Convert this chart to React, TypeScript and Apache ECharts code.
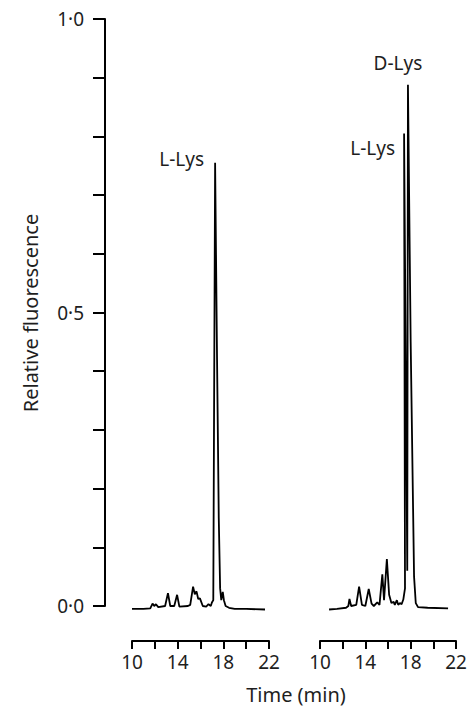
import React, { useEffect, useRef } from "react";
import * as echarts from "echarts";

// Left chromatogram (time in min, relative fluorescence)
const leftTime = [10.0, 11.0, 11.6, 11.8, 11.95, 12.1, 12.3, 12.9, 13.15, 13.35, 13.7, 13.95, 14.15, 14.9, 15.1, 15.35, 15.5, 15.65, 15.8, 15.95, 16.2, 16.5, 16.7, 16.9, 17.0, 17.12, 17.28, 17.45, 17.6, 17.72, 17.82, 17.95, 18.05, 18.2, 18.5, 19.0, 20.0, 21.65];
const leftSignal = [-0.005, -0.005, -0.004, 0.004, 0.0, 0.003, -0.002, 0.0, 0.022, 0.0, 0.0, 0.019, -0.001, 0.0, 0.002, 0.033, 0.02, 0.025, 0.012, 0.013, 0.0, -0.001, 0.003, 0.0, 0.006, 0.01, 0.755, 0.42, 0.15, 0.03, 0.01, 0.024, 0.01, 0.0, -0.003, -0.005, -0.005, -0.006];

// Right chromatogram
const rightTime = [10.8, 11.5, 12.3, 12.5, 12.6, 12.75, 13.2, 13.45, 13.7, 14.0, 14.3, 14.55, 14.75, 15.05, 15.25, 15.5, 15.65, 15.9, 16.1, 16.3, 16.5, 16.6, 16.78, 16.9, 17.05, 17.2, 17.35, 17.5, 17.42, 17.7, 17.76, 18.0, 18.3, 18.45, 18.65, 19.5, 21.3];
const rightSignal = [-0.006, -0.005, -0.003, 0.0, 0.012, 0.0, 0.002, 0.033, 0.002, 0.0, 0.029, 0.004, 0.0, 0.006, 0.002, 0.054, 0.01, 0.08, 0.019, 0.005, 0.007, 0.002, 0.01, 0.002, 0.005, 0.003, 0.011, 0.03, 0.805, 0.06, 0.888, 0.45, 0.05, 0.005, -0.002, -0.003, -0.004];

// Peak annotations
const leftPeaks = [{ name: "L-Lys", t: 17.28, v: 0.755 }];
const rightPeaks = [
  { name: "L-Lys", t: 17.42, v: 0.805 },
  { name: "D-Lys", t: 17.76, v: 0.888 },
];

// Tick labels
const yLabelValues = [0, 0.5, 1.0];
const xLabelValues = [10, 14, 18, 22];

const FONT = "Noto Sans";
const TEXT_COLOR = "#1e1e1e";
const TICK_FS = 19;
const TITLE_FS = 20;

function fmtY(v: number) {
  const hit = yLabelValues.some((y) => Math.abs(y - v) < 1e-6);
  return hit ? v.toFixed(1).replace(".", "\u00B7") : "";
}
function fmtX(v: number) {
  return xLabelValues.some((x) => Math.abs(x - v) < 1e-6) ? String(v) : "";
}

export default function App() {
  const ref = useRef<HTMLDivElement>(null);
  useEffect(() => {
    document.body.style.margin = "0";
    if (!ref.current) return;
    const chart = echarts.init(ref.current, undefined, { renderer: "svg" });

    const xAxisBase = {
      type: "value",
      min: 10,
      max: 22,
      interval: 2,
      position: "bottom",
      offset: 35,
      axisLine: { show: true, onZero: false, lineStyle: { color: "#000", width: 2 } },
      axisTick: { show: true, inside: false, length: 8, lineStyle: { color: "#000", width: 2 } },
      axisLabel: { formatter: fmtX, color: TEXT_COLOR, fontSize: TICK_FS, fontFamily: FONT, margin: 11 },
      splitLine: { show: false },
    };

    const lineStyle = { color: "#000", width: 1.8 };

    const mkMarks = (peaks: any[], cfg: any[]) => ({
      symbol: "circle",
      symbolSize: 0,
      silent: true,
      data: peaks.map((p, i) => ({
        coord: [p.t, p.v],
        label: {
          show: true,
          formatter: p.name,
          color: TEXT_COLOR,
          fontSize: TICK_FS,
          fontFamily: FONT,
          ...cfg[i],
        },
      })),
    });

    chart.setOption({
      animation: false,
      backgroundColor: "#fff",
      grid: [
        { left: 132, width: 137, top: 19, height: 587 },
        { left: 320, width: 136, top: 19, height: 587 },
      ],
      xAxis: [
        { ...xAxisBase, gridIndex: 0 },
        { ...xAxisBase, gridIndex: 1 },
      ],
      yAxis: [
        {
          type: "value",
          gridIndex: 0,
          min: 0,
          max: 1,
          interval: 0.1,
          position: "left",
          offset: 27,
          axisLine: { show: true, onZero: false, lineStyle: { color: "#000", width: 2 } },
          axisTick: { show: true, inside: false, length: 12, lineStyle: { color: "#000", width: 2 } },
          axisLabel: { formatter: fmtY, color: TEXT_COLOR, fontSize: TICK_FS, fontFamily: FONT, margin: 21 },
          splitLine: { show: false },
        },
        { type: "value", gridIndex: 1, min: 0, max: 1, show: false, splitLine: { show: false } },
      ],
      series: [
        {
          type: "line",
          xAxisIndex: 0,
          yAxisIndex: 0,
          data: leftTime.map((t, i) => [t, leftSignal[i]]),
          showSymbol: false,
          symbol: "none",
          clip: false,
          lineStyle,
          markPoint: mkMarks(leftPeaks, [{ position: "left", distance: 11, offset: [0, -4] }]),
        },
        {
          type: "line",
          xAxisIndex: 1,
          yAxisIndex: 1,
          data: rightTime.map((t, i) => [t, rightSignal[i]]),
          showSymbol: false,
          symbol: "none",
          clip: false,
          lineStyle,
          markPoint: mkMarks(rightPeaks, [
            { position: "left", distance: 9, offset: [0, 15] },
            { position: "top", distance: 12, offset: [-10, 0] },
          ]),
        },
      ],
      graphic: [
        {
          type: "text",
          x: 296,
          y: 694,
          style: {
            text: "Time (min)",
            fill: TEXT_COLOR,
            font: `${TITLE_FS}px "${FONT}"`,
            textAlign: "center",
            textVerticalAlign: "middle",
          },
        },
        {
          type: "text",
          x: 30,
          y: 313,
          rotation: Math.PI / 2,
          style: {
            text: "Relative fluorescence",
            fill: TEXT_COLOR,
            font: `${TITLE_FS}px "${FONT}"`,
            textAlign: "center",
            textVerticalAlign: "middle",
          },
        },
      ],
    });
    return () => chart.dispose();
  }, []);
  return <div ref={ref} style={{ width: 471, height: 708 }} />;
}
